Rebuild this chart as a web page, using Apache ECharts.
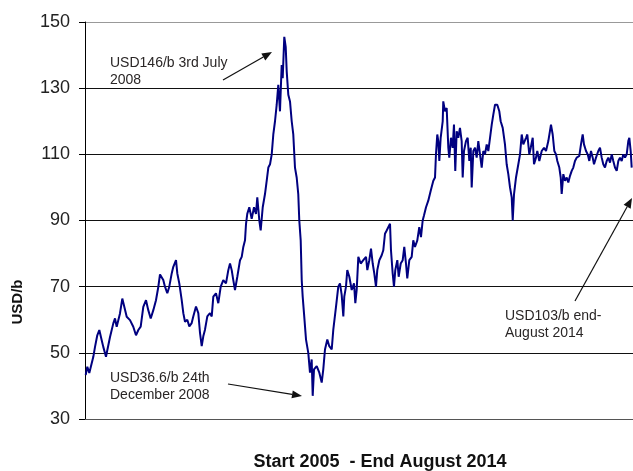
<!DOCTYPE html>
<html>
<head>
<meta charset="utf-8">
<script src="https://cdn.jsdelivr.net/npm/echarts@6/dist/echarts.min.js"></script>
<style>
html,body{margin:0;padding:0;background:#fff;}
#c{width:633px;height:471px;}
</style>
</head>
<body>
<div id="c"></div>
<script>
// Time in years since the start of 2005
var years = [
0.012,0.041,0.076,0.147,0.177,0.217,0.253,0.295,0.323,0.371,0.394,0.442,0.500,0.530,0.560,0.618,0.659,0.689,0.737,0.795,
0.853,0.901,0.942,0.984,1.030,1.078,1.118,1.161,1.207,1.254,1.295,1.325,1.383,1.413,1.454,1.489,1.532,1.560,1.608,1.631,
1.666,1.708,1.737,1.767,1.807,1.843,1.885,1.913,1.961,2.002,2.032,2.062,2.090,2.120,2.161,2.208,2.239,2.267,2.314,2.355,
2.398,2.443,2.491,2.532,2.562,2.592,2.620,2.650,2.691,2.739,2.769,2.797,2.827,2.845,2.867,2.903,2.945,2.986,3.021,3.044,
3.080,3.104,3.140,3.180,3.210,3.239,3.269,3.299,3.327,3.357,3.387,3.415,3.445,3.475,3.493,3.521,3.546,3.564,3.592,3.622,
3.652,3.680,3.710,3.740,3.768,3.786,3.811,3.829,3.846,3.869,3.905,3.945,3.975,4.005,4.023,4.046,4.094,4.140,4.182,4.210,
4.240,4.281,4.316,4.359,4.387,4.435,4.475,4.505,4.535,4.564,4.581,4.611,4.634,4.670,4.712,4.753,4.776,4.800,4.829,4.871,
4.917,4.965,4.988,5.023,5.053,5.083,5.111,5.141,5.164,5.200,5.242,5.270,5.300,5.330,5.359,5.389,5.406,5.436,5.459,5.482,
5.518,5.542,5.578,5.613,5.641,5.671,5.694,5.730,5.772,5.800,5.830,5.871,5.906,5.936,5.966,5.989,6.025,6.065,6.108,6.154,
6.184,6.201,6.224,6.242,6.260,6.284,6.320,6.330,6.360,6.390,6.419,6.436,6.466,6.496,6.519,6.542,6.567,6.595,6.625,6.655,
6.673,6.696,6.731,6.761,6.790,6.815,6.832,6.861,6.891,6.920,6.949,6.979,7.009,7.037,7.067,7.097,7.126,7.156,7.186,7.214,
7.244,7.284,7.320,7.344,7.380,7.420,7.450,7.479,7.509,7.539,7.557,7.580,7.615,7.656,7.686,7.716,7.744,7.792,7.815,7.850,
7.875,7.910,7.933,7.968,7.991,8.027,8.069,8.110,8.145,8.186,8.233,8.263,8.292,8.322,8.345,8.380,8.405,8.422,8.451,8.481,
8.511,8.539,8.569,8.599,8.627,8.657,8.687,8.733,8.763,8.793,8.816,8.852,8.882,8.910,8.940,8.970,8.993,9.028,9.069,9.099,
9.129,9.157,9.187,9.217,9.246,9.276,9.306,9.334,9.364,9.394,9.423,9.452,9.482,9.511,9.541,9.571,9.599,9.617,9.641,9.659
];
// Brent price, USD per barrel
var prices = [
43.3,45.8,43.9,48.8,51.8,55.3,56.9,53.8,51.8,48.8,50.8,54.8,58.9,60.4,57.9,61.9,66.4,65.9,60.9,59.9,
57.9,55.3,56.9,57.9,63.9,65.9,62.9,60.4,62.9,65.9,69.9,73.7,72,70,68,70,74,76,78,74,
71,66,62,59.4,60,58,59,61,64,62,56,52,55,57,61,62,61,67,68,65,
70,72,71,75,77,75,72,69,73,78,79,82,84,89,92,94,90.5,94,92,97,
90,87,94,98,102,106,107,110,116,120,125,131,123,137,133,145.5,142.5,135,128,126,
120,116,106,103,98,90,84,72,67,62,54,50,44,48,37,45,46,44,41,45,
51,54,52,51,57,64,70,71,67.5,61,67,70,75,73,69,71,65,69,79,77,
78,79,75,78,81.5,77,74,70,75,78,79.5,81,86,87,87.5,89,81,74,70,75,
78,73,77,78,82,77,72.5,78,79,84,82,84,88,85,90,91.5,94,96,99,102,
103,110,116,114,108,115,120,126,123,124,112,109,115,112,119,105,117,115,118,114,
103,111,114,115,108,112,100,111,112,109,114,110,106,111,110,113,111,111,119,122,
125,125,123,120,118,113,107,104,100,97,90,98,103,107,110,116,113,115,116,110,
112,115,107,109,111,108,111,112,111,114,119,116,111,110,108,106,103,98,104,102,
103,101.5,103.5,105,106,108,109,109.5,113,116,113,111,110,108,111,109,107,109,111,112,
109,107,106,108,109,107.5,110,108,106,105,108,109,108,110,109,110,114,115,111,106
];
var yTicks = [30, 50, 70, 90, 110, 130, 150];
var yName = 'USD/b';
var xName = 'Start 2005  - End August 2014';
var notePeak = ['USD146/b 3rd July', '2008'];
var noteLow = ['USD36.6/b 24th', 'December 2008'];
var noteEnd = ['USD103/b end-', 'August 2014'];

var series = years.map(function (t, i) { return [t, prices[i]]; });
var FONT = '"Liberation Sans", Arial, sans-serif';
var noteStyle = { fontSize: 14, fontFamily: FONT, fill: '#2a2626', lineHeight: 16.5 };

function arrow(x1, y1, x2, y2) {
  var ang = Math.atan2(y2 - y1, x2 - x1), L = 10, W = 4;
  var bx = x2 - L * Math.cos(ang), by = y2 - L * Math.sin(ang);
  var px = -Math.sin(ang) * W, py = Math.cos(ang) * W;
  return [
    { type: 'line', shape: { x1: x1, y1: y1, x2: bx, y2: by }, style: { stroke: '#111', lineWidth: 1.2 }, z: 10 },
    { type: 'polygon', shape: { points: [[x2, y2], [bx + px, by + py], [bx - px, by - py]] }, style: { fill: '#111' }, z: 10 }
  ];
}

var chart = echarts.init(document.getElementById('c'), null, { renderer: 'canvas' });
var graphics = [
  { type: 'text', left: 110, top: 55, style: Object.assign({ text: notePeak.join('\n') }, noteStyle), z: 10 },
  { type: 'text', left: 110, top: 370, style: Object.assign({ text: noteLow.join('\n') }, noteStyle), z: 10 },
  { type: 'text', left: 505, top: 308, style: Object.assign({ text: noteEnd.join('\n') }, noteStyle), z: 10 },
  { type: 'text', x: 18, y: 302, rotation: Math.PI / 2, style: { text: yName, fontSize: 15, fontWeight: 'bold', fontFamily: FONT, fill: '#111', textAlign: 'center', textVerticalAlign: 'middle' }, z: 10 },
  { type: 'text', x: 380, y: 462, style: { text: xName, fontSize: 18, fontWeight: 'bold', fontFamily: FONT, fill: '#111', textAlign: 'center', textVerticalAlign: 'middle' }, z: 10 }
].concat(arrow(223, 80, 272, 52)).concat(arrow(228, 384, 302, 396)).concat(arrow(575, 301, 632, 198));

chart.setOption({
  animation: false,
  backgroundColor: '#fff',
  grid: { left: 85, right: 0, top: 22, bottom: 52, containLabel: false },
  xAxis: {
    type: 'value', min: 0, max: 9.682,
    axisLine: { show: true, lineStyle: { color: '#555', width: 1 } },
    axisTick: { show: false }, axisLabel: { show: false }, splitLine: { show: false }
  },
  yAxis: {
    type: 'value', min: yTicks[0], max: yTicks[yTicks.length - 1], interval: 20,
    axisLine: { show: true, lineStyle: { color: '#000', width: 1 } },
    axisTick: { show: true, inside: false, length: 6, lineStyle: { color: '#000' } },
    axisLabel: { fontSize: 18, fontFamily: FONT, color: '#222', margin: 15 },
    splitLine: { show: true, lineStyle: { color: ['#555', '#111', '#111', '#111', '#111', '#111', '#999'], width: 1 } }
  },
  series: [{
    type: 'line', data: series, showSymbol: false, symbol: 'none',
    lineStyle: { color: '#000080', width: 2 }, z: 5
  }],
  graphic: graphics
});
</script>
</body>
</html>
